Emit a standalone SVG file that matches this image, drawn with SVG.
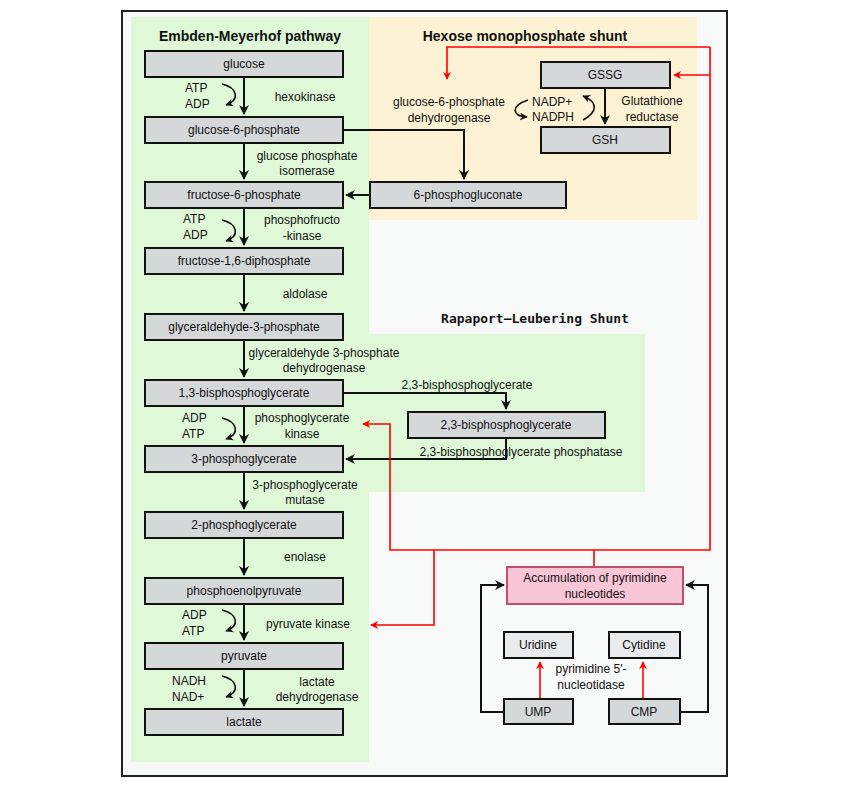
<svg xmlns="http://www.w3.org/2000/svg" width="850" height="794" viewBox="0 0 850 794">
<defs>
<marker id="ab" viewBox="0 0 10 10" refX="9" refY="5" markerWidth="5" markerHeight="5" orient="auto"><path d="M0,0L10,5L0,10L3,5z" fill="#111"/></marker>
<marker id="ar" viewBox="0 0 10 10" refX="9" refY="5" markerWidth="5" markerHeight="5" orient="auto"><path d="M0,0L10,5L0,10L3,5z" fill="#f00"/></marker>
</defs>
<style>
.b{fill:#d5d8d9;stroke:#111;stroke-width:2}
.w{fill:#e9ebec;stroke:#111;stroke-width:2}
text{font-family:"Liberation Sans",Arial,sans-serif;font-size:12px;fill:#111}
.c{text-anchor:middle}
.h{font-weight:bold;font-size:14px}
.k{fill:none;stroke:#111;stroke-width:2}
.r{fill:none;stroke:#f00;stroke-width:1.6}
</style>
<rect width="850" height="794" fill="#fff"/>
<rect x="122" y="11" width="605" height="765" fill="#f8f9f9" stroke="#222" stroke-width="2"/>
<rect x="131" y="17" width="238" height="745" fill="#dff9d8"/>
<rect x="369" y="17" width="328" height="203" fill="#fdf3d4"/>
<rect x="355" y="334" width="290" height="158" fill="#dff9d8"/>
<text x="250" y="41" class="c h">Embden-Meyerhof pathway</text>
<text x="525" y="41" class="c h">Hexose monophosphate shunt</text>
<text x="535" y="323" class="c" style="font-family:'DejaVu Sans Mono',monospace;font-weight:bold;font-size:13px">Rapaport–Leubering Shunt</text>
<g id="connectors">
<path class="k" d="M244,77V114" marker-end="url(#ab)"/>
<path class="k" d="M244,143V179" marker-end="url(#ab)"/>
<path class="k" d="M244,208V245" marker-end="url(#ab)"/>
<path class="k" d="M244,274V311" marker-end="url(#ab)"/>
<path class="k" d="M244,340V377" marker-end="url(#ab)"/>
<path class="k" d="M244,406V443" marker-end="url(#ab)"/>
<path class="k" d="M244,472V509" marker-end="url(#ab)"/>
<path class="k" d="M244,538V575" marker-end="url(#ab)"/>
<path class="k" d="M244,604V640" marker-end="url(#ab)"/>
<path class="k" d="M244,669V706" marker-end="url(#ab)"/>
<path class="k" d="M343,130H464V179" marker-end="url(#ab)"/>
<path class="k" d="M370,195H346" marker-end="url(#ab)"/>
<path class="k" d="M343,393H506V409" marker-end="url(#ab)"/>
<path class="k" d="M506,438V459H346" marker-end="url(#ab)"/>
<path class="k" d="M605,88V124" marker-end="url(#ab)"/>
<path class="k" d="M504,712H481V585H504" marker-end="url(#ab)"/>
<path class="k" d="M680,712H708V585H686" marker-end="url(#ab)"/>
<path fill="none" stroke="#111" stroke-width="1.6" d="M222,84C238,88 240,100 226,105" marker-end="url(#ab)"/>
<path fill="none" stroke="#111" stroke-width="1.6" d="M222,220C238,224 240,236 226,241" marker-end="url(#ab)"/>
<path fill="none" stroke="#111" stroke-width="1.6" d="M222,418C238,422 240,434 226,439" marker-end="url(#ab)"/>
<path fill="none" stroke="#111" stroke-width="1.6" d="M222,610C238,614 240,626 226,631" marker-end="url(#ab)"/>
<path fill="none" stroke="#111" stroke-width="1.6" d="M222,676C238,680 240,692 226,697" marker-end="url(#ab)"/>
<path fill="none" stroke="#111" stroke-width="1.6" d="M528,100C510,106 512,116 527,117" marker-end="url(#ab)"/>
<path fill="none" stroke="#111" stroke-width="1.6" d="M583,120C598,112 598,102 583,96" marker-end="url(#ab)"/>
<path class="r" d="M710,47H447V79" marker-end="url(#ar)"/>
<path class="r" d="M710,75H674" marker-end="url(#ar)"/>
<path class="r" d="M710,47V550H390V424H363" marker-end="url(#ar)"/>
<path class="r" d="M594,567V550"/>
<path class="r" d="M434,550V625H371" marker-end="url(#ar)"/>
<path class="r" d="M540,699V662" marker-end="url(#ar)"/>
<path class="r" d="M643,699V662" marker-end="url(#ar)"/>
</g>
<g id="glucose"><rect class="b" x="145" y="51" width="198" height="26"/><text x="244" y="68" class="c">glucose</text></g>
<g id="g6p"><rect class="b" x="145" y="117" width="198" height="26"/><text x="244" y="134" class="c">glucose-6-phosphate</text></g>
<g id="f6p"><rect class="b" x="145" y="182" width="198" height="26"/><text x="244" y="199" class="c">fructose-6-phosphate</text></g>
<g id="f16dp"><rect class="b" x="145" y="248" width="198" height="26"/><text x="244" y="265" class="c">fructose-1,6-diphosphate</text></g>
<g id="g3p"><rect class="b" x="145" y="314" width="198" height="26"/><text x="244" y="331" class="c">glyceraldehyde-3-phosphate</text></g>
<g id="bpg13"><rect class="b" x="145" y="380" width="198" height="26"/><text x="244" y="397" class="c">1,3-bisphosphoglycerate</text></g>
<g id="pg3"><rect class="b" x="145" y="446" width="198" height="26"/><text x="244" y="463" class="c">3-phosphoglycerate</text></g>
<g id="pg2"><rect class="b" x="145" y="512" width="198" height="26"/><text x="244" y="529" class="c">2-phosphoglycerate</text></g>
<g id="pep"><rect class="b" x="145" y="578" width="198" height="26"/><text x="244" y="595" class="c">phosphoenolpyruvate</text></g>
<g id="pyruvate"><rect class="b" x="145" y="643" width="198" height="26"/><text x="244" y="660" class="c">pyruvate</text></g>
<g id="lactate"><rect class="b" x="145" y="709" width="198" height="26"/><text x="244" y="726" class="c">lactate</text></g>
<g id="pgluc"><rect class="b" x="370" y="182" width="196" height="26"/><text x="468" y="199" class="c">6-phosphogluconate</text></g>
<g id="gssg"><rect class="b" x="541" y="62" width="129" height="26"/><text x="605" y="79" class="c">GSSG</text></g>
<g id="gsh"><rect class="b" x="541" y="127" width="129" height="26"/><text x="605" y="144" class="c">GSH</text></g>
<g id="bpg23"><rect class="b" x="408" y="412" width="197" height="26"/><text x="506" y="429" class="c">2,3-bisphosphoglycerate</text></g>
<g id="accum"><rect x="507" y="567" width="176" height="37" fill="#f9c6d8" stroke="#c0506a" stroke-width="2"/><text x="595" y="582" class="c">Accumulation of pyrimidine</text><text x="595" y="598" class="c">nucleotides</text></g>
<g id="uridine"><rect class="w" x="504" y="632" width="69" height="26"/><text x="538" y="649" class="c">Uridine</text></g>
<g id="cytidine"><rect class="w" x="609" y="632" width="71" height="26"/><text x="644" y="649" class="c">Cytidine</text></g>
<g id="ump"><rect class="b" x="504" y="699" width="69" height="25"/><text x="538" y="716" class="c">UMP</text></g>
<g id="cmp"><rect class="b" x="609" y="699" width="71" height="25"/><text x="644" y="716" class="c">CMP</text></g>
<g id="labels">
<text x="185" y="92">ATP</text><text x="185" y="108">ADP</text>
<text x="305" y="101" class="c">hexokinase</text>
<text x="307" y="160" class="c">glucose phosphate</text><text x="307" y="175" class="c">isomerase</text>
<text x="183" y="223">ATP</text><text x="183" y="239">ADP</text>
<text x="302" y="224" class="c">phosphofructo</text><text x="302" y="240" class="c">-kinase</text>
<text x="305" y="298" class="c">aldolase</text>
<text x="324" y="357" class="c">glyceraldehyde 3-phosphate</text><text x="324" y="372" class="c">dehydrogenase</text>
<text x="182" y="422">ADP</text><text x="182" y="438">ATP</text>
<text x="302" y="422" class="c">phosphoglycerate</text><text x="302" y="438" class="c">kinase</text>
<text x="305" y="489" class="c">3-phosphoglycerate</text><text x="305" y="504" class="c">mutase</text>
<text x="305" y="561" class="c">enolase</text>
<text x="182" y="619">ADP</text><text x="182" y="635">ATP</text>
<text x="308" y="628" class="c">pyruvate kinase</text>
<text x="172" y="685">NADH</text><text x="172" y="701">NAD+</text>
<text x="317" y="686" class="c">lactate</text><text x="317" y="701" class="c">dehydrogenase</text>
<text x="449" y="106" class="c">glucose-6-phosphate</text><text x="449" y="122" class="c">dehydrogenase</text>
<text x="532" y="106">NADP+</text><text x="532" y="121">NADPH</text>
<text x="652" y="105" class="c">Glutathione</text><text x="652" y="121" class="c">reductase</text>
<text x="467" y="389" class="c">2,3-bisphosphoglycerate</text>
<text x="521" y="456" class="c">2,3-bisphosphoglycerate phosphatase</text>
<text x="591" y="673" class="c">pyrimidine 5'-</text><text x="591" y="689" class="c">nucleotidase</text>
</g>
</svg>
